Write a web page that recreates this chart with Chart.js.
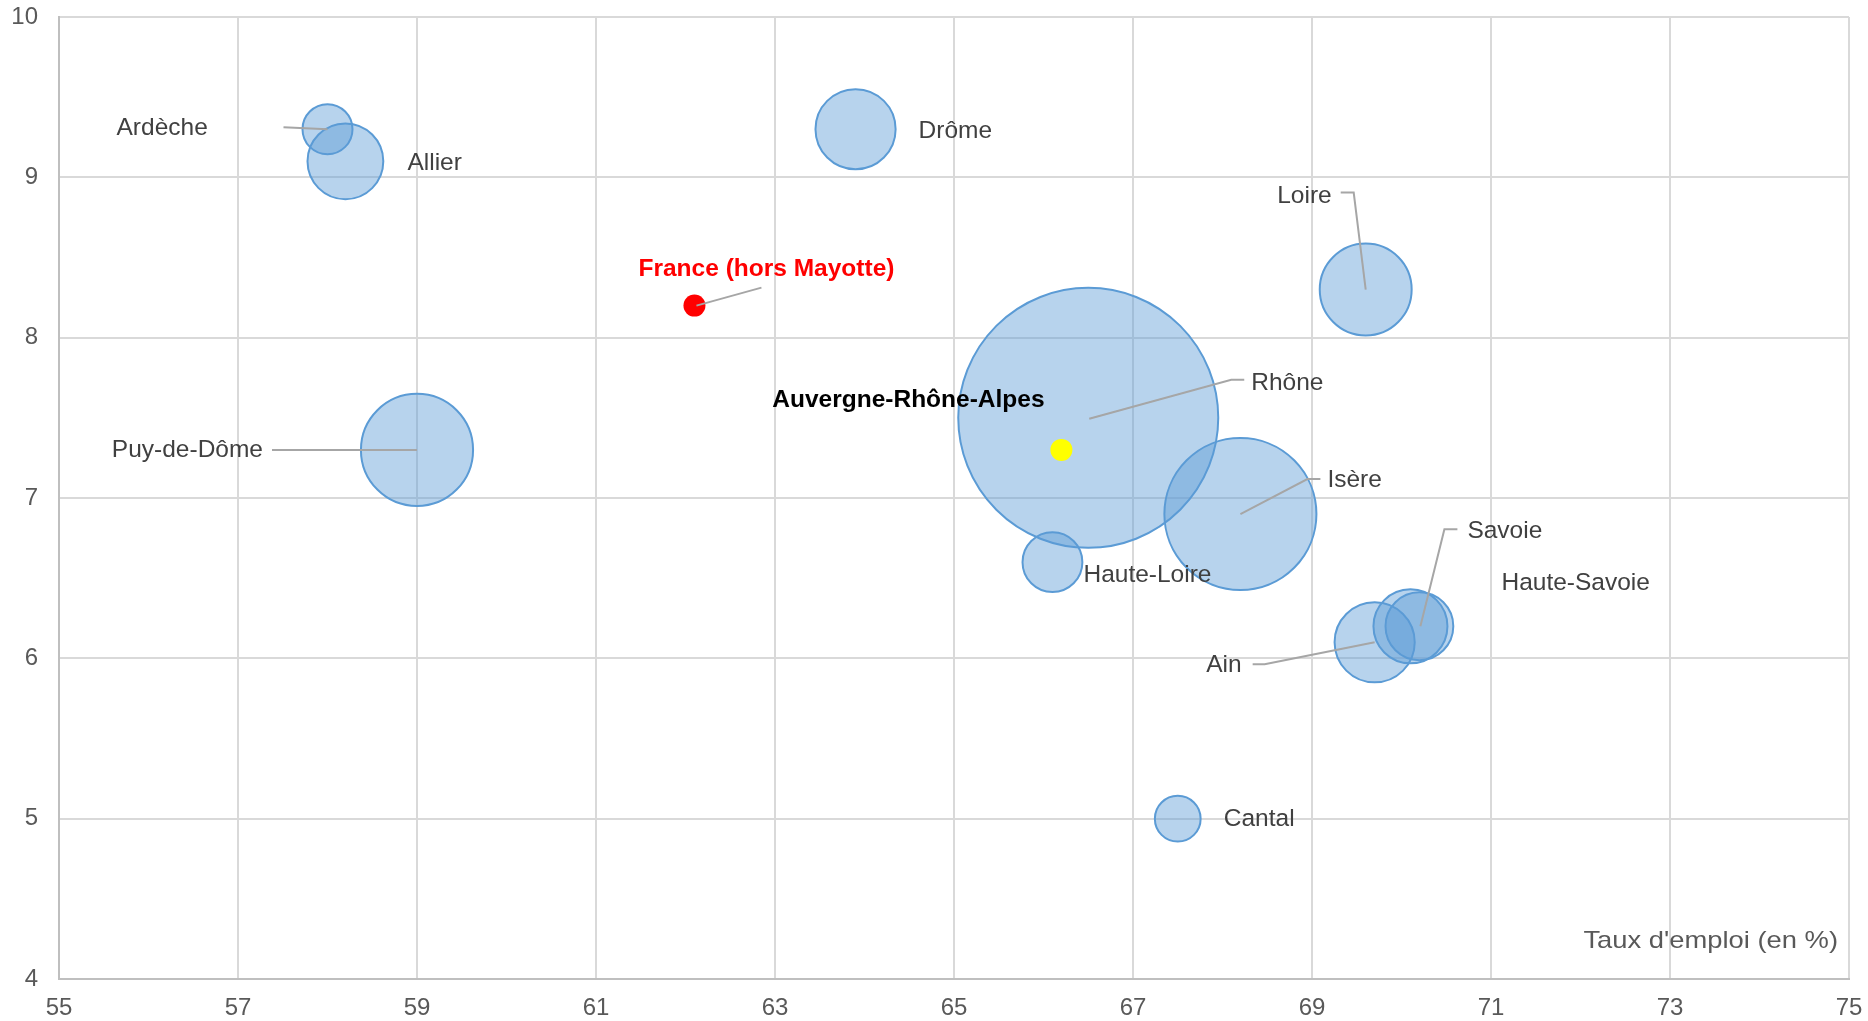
<!DOCTYPE html>
<html><head><meta charset="utf-8">
<script src="https://cdn.jsdelivr.net/npm/chart.js@4/dist/chart.umd.min.js"></script>
<style>html,body{margin:0;padding:0;background:#fff}#wrap{width:1868px;height:1021px}</style>
</head><body><div id="wrap"><canvas id="c" width="1868" height="1021"></canvas></div>
<script>
// ---- Data ----
const departements = ['Ardèche','Allier','Drôme','Loire','Puy-de-Dôme','Rhône','Isère','Haute-Loire','Ain','Savoie','Haute-Savoie','Cantal'];
const tauxEmploi   = [58.0, 58.2, 63.9, 69.6, 59.0, 66.5, 68.2, 66.1, 69.7, 70.2, 70.1, 67.5];
const tauxChomage  = [9.3, 9.1, 9.3, 8.3, 7.3, 7.5, 6.9, 6.6, 6.1, 6.2, 6.2, 5.0];
const poids        = [3.7, 8.5, 9.5, 12.5, 18.6, 100, 34.2, 5.3, 9.5, 6.8, 8.1, 3.1];
const france = { nom: 'France (hors Mayotte)', emploi: 62.1, chomage: 8.2 };
const region = { nom: 'Auvergne-Rhône-Alpes', emploi: 66.2, chomage: 7.3 };
const xTicks = [55, 57, 59, 61, 63, 65, 67, 69, 71, 73, 75];
const yTicks = [4, 5, 6, 7, 8, 9, 10];
const xTitle = "Taux d'emploi (en %)";

// ---- Presentation ----
const RADIUS_SCALE = 13; // px per sqrt(poids)
const FONT = '"Liberation Sans", Arial, sans-serif';
const labelLayout = {
  'Ardèche':      { dx: -211, dy: -1,  align: 'left',  leader: [[-44,-2],[0,0]] },
  'Allier':       { dx: 62,   dy: 2,   align: 'left' },
  'Drôme':        { dx: 63,   dy: 2,   align: 'left' },
  'Loire':        { dx: -34,  dy: -93, align: 'right', leader: [[-25,-97],[-12,-97],[0,0]] },
  'Puy-de-Dôme':  { dx: -154, dy: 0,   align: 'right', leader: [[-145,0],[0,0]] },
  'Rhône':        { dx: 163,  dy: -35, align: 'left',  leader: [[156,-38],[143,-38],[1,1]] },
  'Isère':        { dx: 87,   dy: -34, align: 'left',  leader: [[80,-35],[67,-35],[0,0]] },
  'Haute-Loire':  { dx: 31,   dy: 13,  align: 'left' },
  'Ain':          { dx: -133, dy: 23,  align: 'right', leader: [[-122,22],[-110,22],[0,0]] },
  'Savoie':       { dx: 48,   dy: -95, align: 'left',  leader: [[38,-97],[25,-97],[1,0]] },
  'Haute-Savoie': { dx: 91,   dy: -43, align: 'left' },
  'Cantal':       { dx: 46,   dy: 1,   align: 'left' }
};

const deptData = departements.map((d, i) => ({ x: tauxEmploi[i], y: tauxChomage[i], r: RADIUS_SCALE * Math.sqrt(poids[i]) }));

const labelsPlugin = {
  id: 'labelsPlugin',
  afterDatasetsDraw(chart) {
    const ctx = chart.ctx, xs = chart.scales.x, ys = chart.scales.y;
    ctx.save();
    ctx.strokeStyle = '#A6A6A6';
    ctx.lineWidth = 2;
    const drawLeader = (cx, cy, pts) => {
      ctx.beginPath();
      pts.forEach((p, k) => { if (k === 0) ctx.moveTo(cx + p[0], cy + p[1]); else ctx.lineTo(cx + p[0], cy + p[1]); });
      ctx.stroke();
    };
    departements.forEach((d, i) => {
      const L = labelLayout[d];
      if (L && L.leader) drawLeader(xs.getPixelForValue(tauxEmploi[i]), ys.getPixelForValue(tauxChomage[i]), L.leader);
    });
    const fx = xs.getPixelForValue(france.emploi), fy = ys.getPixelForValue(france.chomage);
    drawLeader(fx, fy, [[67,-18],[2,0]]);
    ctx.textBaseline = 'middle';
    ctx.font = '24.5px ' + FONT;
    ctx.fillStyle = '#404040';
    departements.forEach((d, i) => {
      const L = labelLayout[d];
      const cx = xs.getPixelForValue(tauxEmploi[i]), cy = ys.getPixelForValue(tauxChomage[i]);
      ctx.textAlign = L.align;
      ctx.fillText(d, cx + L.dx, cy + L.dy);
    });
    ctx.font = 'bold 24.5px ' + FONT;
    ctx.fillStyle = '#FF0000';
    ctx.textAlign = 'center';
    ctx.fillText(france.nom, fx + 72, fy - 36);
    const rx = xs.getPixelForValue(region.emploi), ry = ys.getPixelForValue(region.chomage);
    ctx.fillStyle = '#000000';
    ctx.fillText(region.nom, rx - 153, ry - 50);
    // axis title (horizontally stretched as in the original)
    ctx.font = '24px ' + FONT;
    ctx.fillStyle = '#595959';
    ctx.textAlign = 'right';
    ctx.textBaseline = 'alphabetic';
    ctx.translate(chart.chartArea.right - 11, chart.chartArea.bottom - 31);
    ctx.scale(1.14, 1);
    ctx.fillText(xTitle, 0, 0);
    ctx.restore();
  }
};

new Chart(document.getElementById('c'), {
  type: 'bubble',
  data: {
    datasets: [
      { label: region.nom, data: [{ x: region.emploi, y: region.chomage, r: 11 }], backgroundColor: '#FFFF00', borderWidth: 0, order: 0 },
      { label: france.nom, data: [{ x: france.emploi, y: france.chomage, r: 11 }], backgroundColor: '#FF0000', borderWidth: 0, order: 1 },
      { label: 'Départements', data: deptData, backgroundColor: 'rgba(91,155,213,0.44)', borderColor: '#5B9BD5', borderWidth: 2, order: 2 }
    ]
  },
  options: {
    responsive: false,
    animation: false,
    events: [],
    layout: { autoPadding: false, padding: { top: 17, right: 19, left: 0, bottom: 0 } },
    plugins: { legend: { display: false }, tooltip: { enabled: false } },
    scales: {
      x: {
        type: 'linear', min: 55, max: 75,
        afterBuildTicks: s => { s.ticks = xTicks.map(v => ({ value: v })); },
        afterFit: s => { s.height = 42; s.paddingLeft = 0; s.paddingRight = 0; s.paddingTop = 0; s.paddingBottom = 0; },
        ticks: { font: { size: 24, family: FONT }, color: '#595959', padding: 15, maxRotation: 0 },
        grid: { color: '#D9D9D9', lineWidth: 2, drawTicks: false, tickLength: 0 },
        border: { color: '#BFBFBF', width: 2 }
      },
      y: {
        type: 'linear', min: 4, max: 10,
        afterBuildTicks: s => { s.ticks = yTicks.map(v => ({ value: v })); },
        afterFit: s => { s.width = 59; s.paddingLeft = 0; s.paddingRight = 0; s.paddingTop = 0; s.paddingBottom = 0; },
        ticks: { font: { size: 24, family: FONT }, color: '#595959', padding: 21 },
        grid: { color: '#D9D9D9', lineWidth: 2, drawTicks: false, tickLength: 0 },
        border: { color: '#BFBFBF', width: 2 }
      }
    }
  },
  plugins: [labelsPlugin]
});
</script></body></html>
